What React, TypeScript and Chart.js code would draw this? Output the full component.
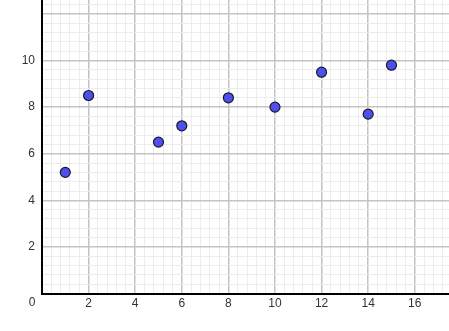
import React, { useEffect, useRef } from "react";
import { Chart, registerables } from "chart.js";

Chart.register(...registerables);

const xValues = [1, 2, 5, 6, 8, 10, 12, 14, 15];
const yValues = [5.2, 8.5, 6.5, 7.2, 8.4, 8.0, 9.5, 7.7, 9.8];
const xLabelValues = [2, 4, 6, 8, 10, 12, 14, 16];
const yLabelValues = [2, 4, 6, 8, 10];
const X_MAX = 17.47;
const Y_MAX = 12.6;

const near = (v: number, arr: number[]) => arr.some((a) => Math.abs(a - v) < 1e-6);
const isMajor = (v: number) => Math.abs(v / 2 - Math.round(v / 2)) < 1e-6;

const originLabel = {
  id: "originLabel",
  afterDraw(chart: any) {
    const { ctx, scales } = chart;
    const x = scales.x.getPixelForValue(0) - 10;
    const y = scales.y.getPixelForValue(0) + 9;
    ctx.save();
    ctx.font = "12px Arial, 'Liberation Sans', sans-serif";
    ctx.fillStyle = "#333";
    ctx.textAlign = "center";
    ctx.textBaseline = "middle";
    ctx.fillText("0", x, y);
    ctx.restore();
  },
};

export default function App() {
  const ref = useRef<HTMLCanvasElement | null>(null);
  useEffect(() => {
    if (!ref.current) return;
    const data = xValues.map((x, i) => ({ x, y: yValues[i] }));
    const font = { family: "Arial, 'Liberation Sans', sans-serif", size: 12 };
    const chart = new Chart(ref.current, {
      type: "scatter",
      data: {
        datasets: [
          {
            data,
            backgroundColor: "#4f4ff0",
            borderColor: "#1a1a2a",
            borderWidth: 1.2,
            pointRadius: 5,
          },
        ],
      },
      plugins: [originLabel],
      options: {
        animation: false,
        responsive: false,
        maintainAspectRatio: false,
        layout: { padding: 0, autoPadding: false },
        plugins: { legend: { display: false }, tooltip: { enabled: false } },
        scales: {
          x: {
            type: "linear",
            min: 0,
            max: X_MAX,
            afterFit: (s: any) => {
              s.height = 37.5;
              s.paddingLeft = 0;
              s.paddingRight = 0;
            },
            afterBuildTicks: (s: any) => {
              const t = [];
              for (let i = 0; i <= 43; i++) t.push({ value: Math.round(i * 0.4 * 10) / 10 });
              s.ticks = t;
            },
            ticks: {
              autoSkip: false,
              maxRotation: 0,
              padding: 3,
              color: "#333",
              font,
              callback: (v: any) => (near(Number(v), xLabelValues) ? String(v) : ""),
            },
            grid: {
              drawTicks: false,
              color: (c: any) => (isMajor(c.tick?.value ?? 0) ? "#c4c4c4" : "#ececec"),
              lineWidth: (c: any) => (isMajor(c.tick?.value ?? 0) ? 1.5 : 1),
            },
            border: { color: "#000", width: 2 },
          },
          y: {
            type: "linear",
            min: 0,
            max: Y_MAX,
            afterFit: (s: any) => {
              s.width = 42;
              s.paddingTop = 0;
              s.paddingBottom = 0;
            },
            afterBuildTicks: (s: any) => {
              const t = [];
              for (let i = 0; i <= 31; i++) t.push({ value: Math.round(i * 0.4 * 10) / 10 });
              s.ticks = t;
            },
            ticks: {
              autoSkip: false,
              padding: 7,
              color: "#333",
              font,
              callback: (v: any) => (near(Number(v), yLabelValues) ? String(v) : ""),
            },
            grid: {
              drawTicks: false,
              color: (c: any) => (isMajor(c.tick?.value ?? 0) ? "#c4c4c4" : "#ececec"),
              lineWidth: (c: any) => (isMajor(c.tick?.value ?? 0) ? 1.5 : 1),
            },
            border: { color: "#000", width: 2 },
          },
        },
      },
    });
    return () => chart.destroy();
  }, []);
  return (
    <div style={{ position: "fixed", left: 0, top: 0, width: 449, height: 331, background: "#fff" }}>
      <canvas ref={ref} width={449} height={331} style={{ width: 449, height: 331, display: "block" }} />
    </div>
  );
}
